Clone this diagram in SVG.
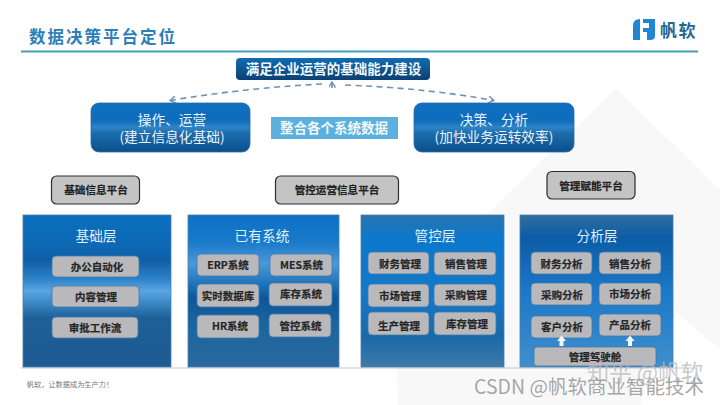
<svg xmlns="http://www.w3.org/2000/svg" width="720" height="405" viewBox="0 0 720 405">
<style>
text{font-family:"Noto Sans CJK SC","Liberation Sans",sans-serif;text-anchor:middle}
.sub rect{fill:#b9b9bb;stroke:#3f78ad;stroke-width:.8}
.sub text{font-size:10.5px;font-weight:700;fill:#262626;stroke:#262626;stroke-width:.2}
.plat rect{fill:#c4c4c4;stroke:#2e2e2e;stroke-width:1.2}
.plat text{font-size:10.6px;font-weight:700;fill:#222;stroke:#222;stroke-width:.2}
.big rect{fill:url(#gBig);stroke:#2a6aa6;stroke-width:.8}
.big text{font-size:13.7px;fill:#e9f3fb}
.head{font-size:13.7px;fill:#dff0fb}
.panel{stroke:#4d7ea8;stroke-width:.8}
.dash{fill:none;stroke:#6f91b5;stroke-width:1.6;stroke-dasharray:6 4.5}
</style>
<defs>
<linearGradient id="gBig" x1="0" y1="0" x2="0" y2="1"><stop offset="0" stop-color="#0f6fc0"/><stop offset=".35" stop-color="#0e6cbb"/><stop offset=".5" stop-color="#2f84c6"/><stop offset=".62" stop-color="#1b6cac"/><stop offset="1" stop-color="#0b4f8c"/></linearGradient>
<linearGradient id="gTop" x1="0" y1="0" x2="0" y2="1"><stop offset="0" stop-color="#0f6db4"/><stop offset="1" stop-color="#0b3f74"/></linearGradient>
<linearGradient id="g1" x1="0" y1="0" x2="0" y2="1"><stop offset="0" stop-color="#0b6fc0"/><stop offset=".2" stop-color="#0e69b4"/><stop offset=".3" stop-color="#0f5ea6"/><stop offset=".42" stop-color="#2d82c8"/><stop offset=".5" stop-color="#5aa6e4"/><stop offset=".62" stop-color="#2c78b2"/><stop offset=".68" stop-color="#1d5f96"/><stop offset="1" stop-color="#1e5b92"/></linearGradient>
<linearGradient id="g2" x1="0" y1="0" x2="0" y2="1"><stop offset="0" stop-color="#0b71c6"/><stop offset=".18" stop-color="#1a7aca"/><stop offset=".32" stop-color="#4b98d8"/><stop offset=".45" stop-color="#1f74ba"/><stop offset=".55" stop-color="#0e5698"/><stop offset=".72" stop-color="#1b659f"/><stop offset="1" stop-color="#2a6a9e"/></linearGradient>
<linearGradient id="g3" x1="0" y1="0" x2="0" y2="1"><stop offset="0" stop-color="#2a74ac"/><stop offset=".15" stop-color="#0c78cc"/><stop offset=".55" stop-color="#1478c8"/><stop offset=".8" stop-color="#1a69a8"/><stop offset="1" stop-color="#3d7aa8"/></linearGradient>
<linearGradient id="g4" x1="0" y1="0" x2="0" y2="1"><stop offset="0" stop-color="#2f6f9f"/><stop offset=".15" stop-color="#0b5ca6"/><stop offset=".5" stop-color="#1c78c8"/><stop offset="1" stop-color="#3f8fcc"/></linearGradient>
<marker id="arr" viewBox="0 0 10 10" refX="9" refY="5" markerWidth="7" markerHeight="7" orient="auto" markerUnits="userSpaceOnUse"><path d="M1 0L9 5L1 10" fill="none" stroke="#6f91b5" stroke-width="2"/></marker>
</defs>
<rect width="720" height="405" fill="#fff"/>
<path d="M616 88L720 190V350L677 313L660 340L640 405H398L395 305Z" fill="#f8f8f9"/>
<text x="103" y="43" style="font-size:16.5px;font-weight:700;letter-spacing:2px;fill:#2c7fb8">数据决策平台定位</text>
<rect x="21" y="50.500" width="677" height="2" fill="#3f9dc2"/>
<g id="logo"><path d="M633 40V26Q633 19 640 19V40ZM643 19H655V36Q655 40 650 40H647V32H643V28H649V23H643Z" fill="#1f86d0"/><text x="678.500" y="37" style="font-size:17px;font-weight:700;letter-spacing:1.500px;fill:#26678f">帆软</text></g>
<line x1="21" y1="368" x2="698" y2="368" stroke="#b5bcc2" stroke-width=".8"/>
<text x="70" y="386.500" style="font-size:7.200px;fill:#777">帆软，让数据成为生产力！</text>
<g id="connectors">
<path class="dash" d="M322 84Q245 88 170 100.500" marker-end="url(#arr)"/>
<path class="dash" d="M345 85Q425 88 494 100.500" marker-end="url(#arr)"/>
<path d="M332 88V82" fill="none" stroke="#6f91b5" stroke-width="1.600" marker-end="url(#arr)"/>
</g>
<g id="top"><rect x="236" y="58" width="194" height="22" rx="4" fill="url(#gTop)"/><text x="333.500" y="74" style="font-size:13.500px;font-weight:700;fill:#f2f7fb">满足企业运营的基础能力建设</text></g>
<g id="ops" class="big"><rect x="91" y="103" width="159" height="49" rx="8"/><text x="172" y="125">操作、运营</text><text x="172" y="142">(建立信息化基础)</text></g>
<g id="dec" class="big"><rect x="414" y="103" width="160" height="49" rx="8"/><text x="494" y="125">决策、分析</text><text x="494" y="142">(加快业务运转效率)</text></g>
<g id="merge"><rect x="271" y="117" width="127" height="22" fill="#5cb0de"/><text x="334" y="133" style="font-size:13.500px;font-weight:700;fill:#f1f8fc">整合各个系统数据</text></g>
<g id="p1" class="plat"><rect x="51.500" y="176" width="88" height="28" rx="5"/><text x="96" y="194">基础信息平台</text></g>
<g id="p2" class="plat"><rect x="275.500" y="176" width="123" height="28" rx="5"/><text x="337" y="194">管控运营信息平台</text></g>
<g id="p3" class="plat"><rect x="547" y="171.500" width="88" height="27.500" rx="5"/><text x="591" y="189.500">管理赋能平台</text></g>
<g id="layer1"><rect class="panel" x="23" y="215" width="148" height="152" fill="url(#g1)"/><text class="head" x="96" y="241">基础层</text>
<g id="n11" class="sub"><rect x="52" y="256" width="87" height="21" rx="4"/><text x="97" y="270.500">办公自动化</text></g>
<g id="n12" class="sub"><rect x="52" y="286" width="87" height="21" rx="4"/><text x="96" y="301">内容管理</text></g>
<g id="n13" class="sub"><rect x="52" y="317" width="86" height="21" rx="4"/><text x="95" y="332">审批工作流</text></g></g>
<g id="layer2"><rect class="panel" x="188" y="215" width="151" height="152" fill="url(#g2)"/><text class="head" x="262" y="241">已有系统</text>
<g id="n21" class="sub"><rect x="197" y="254" width="62" height="22" rx="4"/><text x="228" y="269">ERP系统</text></g>
<g id="n22" class="sub"><rect x="270" y="254" width="62" height="22" rx="4"/><text x="301.500" y="269">MES系统</text></g>
<g id="n23" class="sub"><rect x="197" y="284" width="62" height="23" rx="4"/><text x="228" y="300">实时数据库</text></g>
<g id="n24" class="sub"><rect x="269" y="283" width="63" height="23" rx="4"/><text x="301" y="298">库存系统</text></g>
<g id="n25" class="sub"><rect x="197" y="315" width="62" height="23" rx="4"/><text x="230" y="330">HR系统</text></g>
<g id="n26" class="sub"><rect x="269" y="314" width="62" height="23" rx="4"/><text x="300.500" y="330">管控系统</text></g></g>
<g id="layer3"><rect class="panel" x="361" y="215" width="143" height="152" fill="url(#g3)"/><text class="head" x="435" y="241">管控层</text>
<g id="n31" class="sub"><rect x="368" y="252" width="61" height="22" rx="4"/><text x="400" y="268">财务管理</text></g>
<g id="n32" class="sub"><rect x="434" y="252" width="62" height="23" rx="4"/><text x="466" y="268">销售管理</text></g>
<g id="n33" class="sub"><rect x="368" y="284" width="61" height="23" rx="4"/><text x="400" y="300">市场管理</text></g>
<g id="n34" class="sub"><rect x="434" y="284" width="62" height="22" rx="4"/><text x="466" y="299">采购管理</text></g>
<g id="n35" class="sub"><rect x="368" y="312" width="61" height="23" rx="4"/><text x="399" y="330">生产管理</text></g>
<g id="n36" class="sub"><rect x="434" y="312" width="62" height="23" rx="4"/><text x="467" y="328">库存管理</text></g></g>
<g id="layer4"><rect class="panel" x="520" y="215" width="153" height="152" fill="url(#g4)"/><text class="head" x="597" y="241">分析层</text>
<g id="n41" class="sub"><rect x="531" y="252" width="61" height="22" rx="4"/><text x="561.500" y="268">财务分析</text></g>
<g id="n42" class="sub"><rect x="599" y="252" width="62" height="22" rx="4"/><text x="630" y="268">销售分析</text></g>
<g id="n43" class="sub"><rect x="531" y="283" width="61" height="22" rx="4"/><text x="562" y="299">采购分析</text></g>
<g id="n44" class="sub"><rect x="599" y="283" width="62" height="22" rx="4"/><text x="630" y="298">市场分析</text></g>
<g id="n45" class="sub"><rect x="531" y="316" width="61" height="22" rx="4"/><text x="562" y="331">客户分析</text></g>
<g id="n46" class="sub"><rect x="599" y="314" width="62" height="22" rx="4"/><text x="630" y="329">产品分析</text></g>
<g id="n47" class="sub"><rect x="534" y="347" width="122" height="19" rx="3"/><text x="595" y="361">管理驾驶舱</text></g>
<path d="M561.500 335.500L566 341H563.500V346H559.500V341H557ZM630 335.500L634.500 341H632V346H628V341H625.500Z" fill="#f3f8fc"/></g>
<text x="645" y="381" style="font-size:22.500px;fill:#bcbcbc;fill-opacity:.8">知乎 @帆软</text>
<text x="589" y="394" style="font-size:19.500px;fill:#9b9b9b;fill-opacity:.9">CSDN @帆软商业智能技术</text>
</svg>
